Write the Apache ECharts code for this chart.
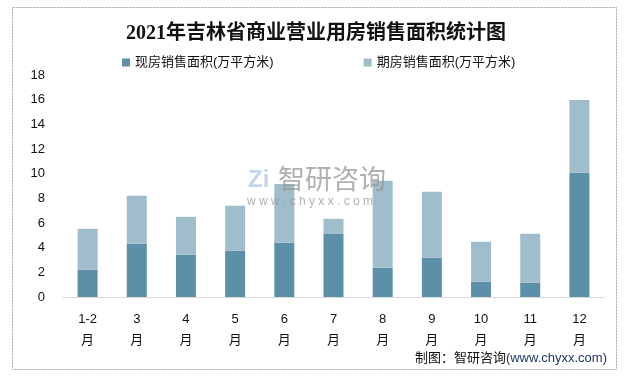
<!DOCTYPE html>
<html><head><meta charset="utf-8">
<script src="https://cdn.jsdelivr.net/npm/echarts@6/dist/echarts.min.js"></script>
<style>html,body{margin:0;padding:0;background:#fff}#c{width:632px;height:377px}</style>
</head><body><div id="c"></div>
<script>
const categories = ['1-2\n月','3\n月','4\n月','5\n月','6\n月','7\n月','8\n月','9\n月','10\n月','11\n月','12\n月'];
const xianfang = [2.21, 4.32, 3.43, 3.75, 4.40, 5.12, 2.37, 3.18, 1.24, 1.16, 10.07];
const qifang   = [3.32, 3.88, 3.07, 3.64, 4.77, 1.22, 7.05, 5.35, 3.24, 3.96, 5.91];
const seriesNames = ['现房销售面积(万平方米)', '期房销售面积(万平方米)'];
const titleText = '2021年吉林省商业营业用房销售面积统计图';

const cjk = '"Liberation Serif", "Noto Sans CJK SC", serif';
const sans = '"Liberation Sans", "Noto Sans CJK SC", sans-serif';
const chart = echarts.init(document.getElementById('c'));
chart.setOption({
  animation: false,
  title: { text: titleText, left: 'center', top: 19,
    textStyle: { fontFamily: cjk, fontSize: 20, fontWeight: 'bold', color: '#111' } },
  legend: { top: 51, left: 117, itemWidth: 8, itemHeight: 8, itemGap: 90,
    icon: 'rect', textStyle: { fontFamily: sans, fontSize: 13, color: '#111' },
    data: seriesNames },
  grid: { left: 63, right: 28, top: 75, bottom: 80 },
  xAxis: { type: 'category', data: categories,
    axisLine: { lineStyle: { color: '#D9D9D9', width: 1 } },
    axisTick: { show: false },
    axisLabel: { fontFamily: sans, fontSize: 13, color: '#111', margin: 12, lineHeight: 21, interval: 0 } },
  yAxis: { type: 'value', min: 0, max: 18, interval: 2,
    splitLine: { show: false }, axisLine: { show: false }, axisTick: { show: false },
    axisLabel: { fontFamily: sans, fontSize: 13, color: '#111', margin: 18 } },
  series: [
    { name: seriesNames[0], type: 'bar', stack: 'a', data: xianfang, barWidth: 20,
      itemStyle: { color: '#5B90A8' } },
    { name: seriesNames[1], type: 'bar', stack: 'a', data: qifang, barWidth: 20,
      itemStyle: { color: '#9FBDCB' } }
  ],
  graphic: [
    { type: 'rect', shape: { x: 12.5, y: 7.5, width: 604, height: 362 }, silent: true,
      style: { fill: null, stroke: '#A6A6A6', lineWidth: 1, lineDash: [2, 1] }, z: -1 },
    { type: 'text', left: 278, top: 168, silent: true, z: 100,
      style: { text: '智研咨询', fontFamily: sans, fontSize: 27, fill: 'rgba(150,150,150,0.75)' } },
    { type: 'text', left: 247, top: 196, silent: true, z: 100,
      style: { text: 'w w w . c h y x x . c o m', fontFamily: sans, fontSize: 12, fill: 'rgba(150,150,150,0.75)' } },
    { type: 'text', left: 248, top: 168, silent: true, z: 100,
      style: { text: 'Zi', fontFamily: sans, fontSize: 24, fontWeight: 'bold', fill: 'rgba(170,195,225,0.7)' } },
    { type: 'text', right: 25, top: 352, silent: true,
      style: { rich: { a: { fontFamily: sans, fontSize: 13, fill: '#111' }, b: { fontFamily: sans, fontSize: 13, fill: '#1F3864' } },
        text: '{a|制图：智研咨询}{b|(www.chyxx.com)}' } }
  ]
});
</script></body></html>
